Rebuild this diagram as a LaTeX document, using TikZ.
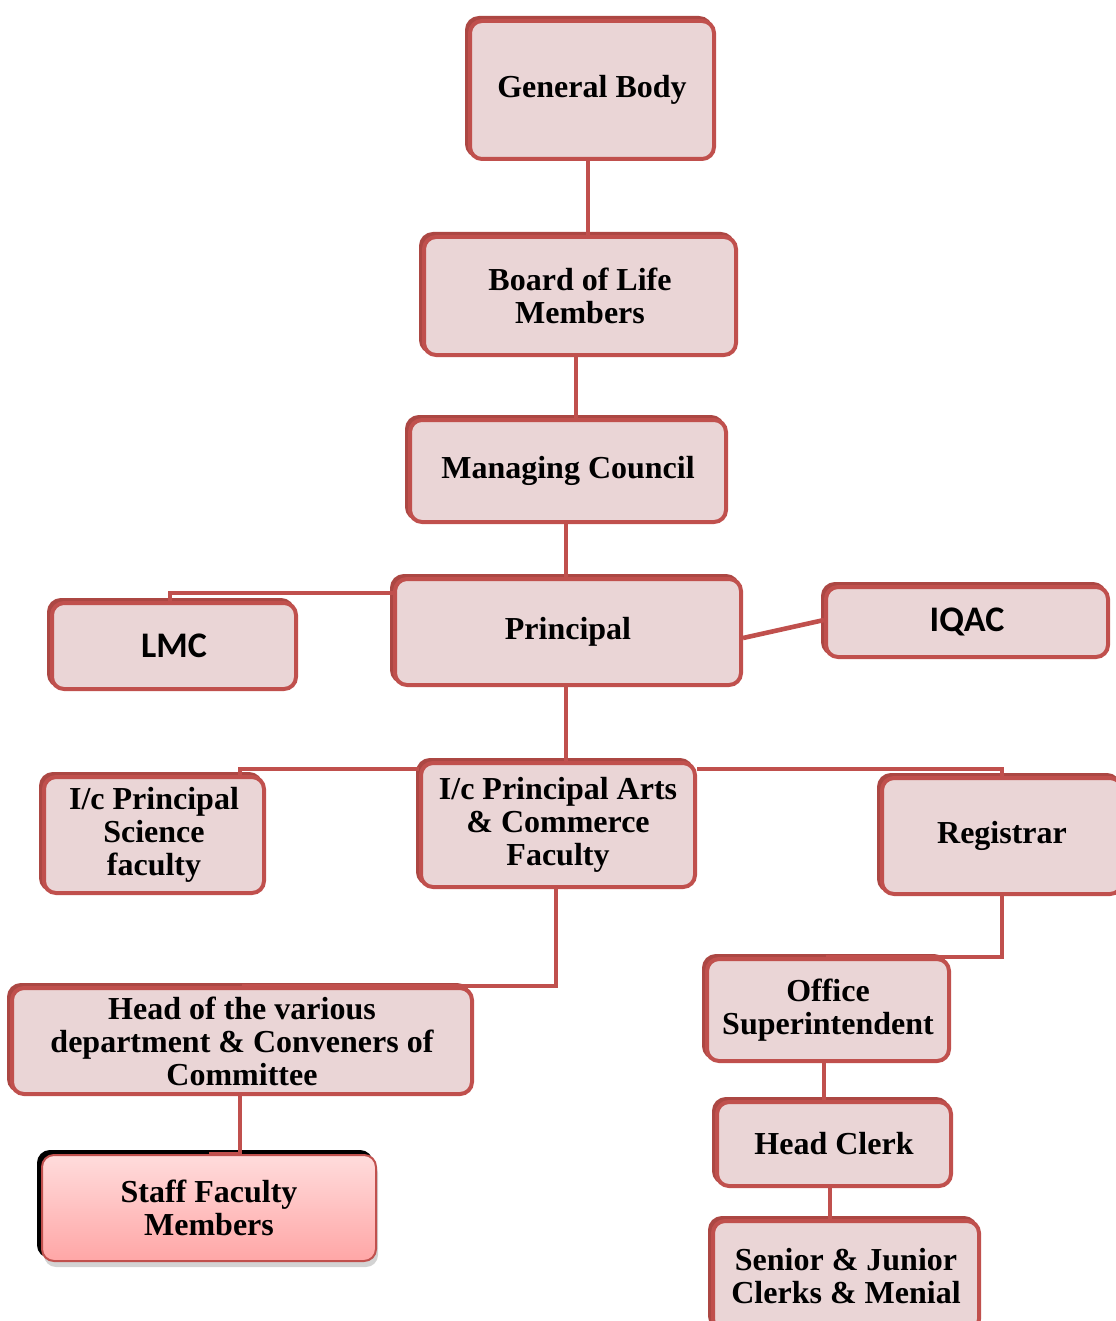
\documentclass[tikz,border=0pt]{standalone}
\usepackage{fontspec}
\setmainfont{Liberation Serif}
\newfontfamily\calib{Carlito}
\usetikzlibrary{shadows}
\definecolor{boxred}{HTML}{C0504D}
\definecolor{shadowred}{HTML}{AC4743}
\definecolor{boxfill}{HTML}{EAD5D6}
\definecolor{pinktop}{HTML}{FFDCDC}
\definecolor{pinkbot}{HTML}{FFA6A6}

\begin{document}
\begin{tikzpicture}[x=0.5pt, y=-0.5pt,
    orgbox/.style={rectangle, rounded corners=6pt, draw=boxred, line width=2pt, fill=boxfill,
        align=center, font=\bfseries\fontsize{16}{16.5}\selectfont,
        copy shadow={shadow xshift=-1.5pt, shadow yshift=1.5pt, draw=shadowred, fill=shadowred}},
    sansbox/.style={orgbox, font=\calib\bfseries\fontsize{18}{20}\selectfont},
    staffbox/.style={rectangle, rounded corners=6pt, draw=boxred, line width=1pt,
        top color=pinktop, bottom color=pinkbot, align=center,
        font=\bfseries\fontsize{16}{16.5}\selectfont,
        drop shadow={shadow xshift=1pt, shadow yshift=-3pt, opacity=0.35},
        copy shadow={shadow xshift=-2pt, shadow yshift=2pt, draw=black, fill=black}},
    link/.style={draw=boxred, line width=2.3pt}]
\useasboundingbox (0,0) rectangle (1115,1321);

\node[orgbox, minimum width=122pt, minimum height=69pt] (gb)   at (592,90)   {General Body};
\node[orgbox, minimum width=156pt, minimum height=59pt] (blm)  at (580,296)  {Board of Life\\Members};
\node[orgbox, minimum width=158pt, minimum height=51pt] (mc)   at (568,471)  {Managing Council};
\node[orgbox, minimum width=173pt, minimum height=53pt] (prin) at (568,632)  {Principal};
\node[sansbox, minimum width=122pt, minimum height=43pt] (lmc)  at (174,646)  {LMC};
\node[sansbox, minimum width=141pt, minimum height=35pt] (iqac) at (967,622)  {IQAC};
\node[orgbox, minimum width=110pt, minimum height=58pt] (sci)  at (154,835)  {I/c Principal\\Science\\faculty};
\node[orgbox, minimum width=137pt, minimum height=62pt] (arts) at (558,825)  {I/c Principal Arts\\\& Commerce\\Faculty};
\node[orgbox, minimum width=120pt, minimum height=58pt] (reg)  at (1002,836) {Registrar};
\node[orgbox, minimum width=230pt, minimum height=53pt] (head) at (242,1041) {Head of the various\\department \& Conveners of\\Committee};
\node[staffbox, minimum width=167pt, minimum height=53pt] (staff) at (209,1208) {Staff Faculty\\Members};
\node[orgbox, minimum width=121pt, minimum height=51pt] (os)   at (828,1010) {Office\\Superintendent};
\node[orgbox, minimum width=117pt, minimum height=42pt] (hc)   at (834,1144) {Head Clerk};
\node[orgbox, minimum width=133pt, minimum height=55pt] (sj)   at (846,1276) {Senior \& Junior\\Clerks \& Menial};

\draw[link] ([xshift=-2pt]gb.south) -- ([xshift=-2pt]gb.south |- blm.north);
\draw[link] ([xshift=-2pt]blm.south) -- ([xshift=-2pt]blm.south |- mc.north);
\draw[link] ([xshift=-1pt]mc.south) -- ([xshift=-1pt]mc.south |- prin.north);
\draw[link] ([yshift=-8pt]prin.north west) -| ([xshift=-2pt]lmc.north);
\draw[link] ([yshift=-3pt]prin.east) -- ([yshift=1pt]iqac.west);
\draw[link] ([xshift=-1pt]prin.south) -- ([xshift=-1pt]prin.south |- arts.north);
\draw[link] ([yshift=-4pt]arts.north west) -| ([xshift=-13pt]sci.north east);
\draw[link] ([yshift=-4pt]arts.north east) -| (reg.north);
\draw[link] ([xshift=-1pt]arts.south) |- (head.north);
\draw[link] ([xshift=-1pt]head.south) |- (staff.north);
\draw[link] (reg.south) |- ([xshift=-1pt]os.north);
\draw[link] ([xshift=-2pt]os.south) -- ([xshift=-2pt]os.south |- hc.north);
\draw[link] ([xshift=-2pt]hc.south) -- ([xshift=-2pt]hc.south |- sj.north);
\end{tikzpicture}
\end{document}
